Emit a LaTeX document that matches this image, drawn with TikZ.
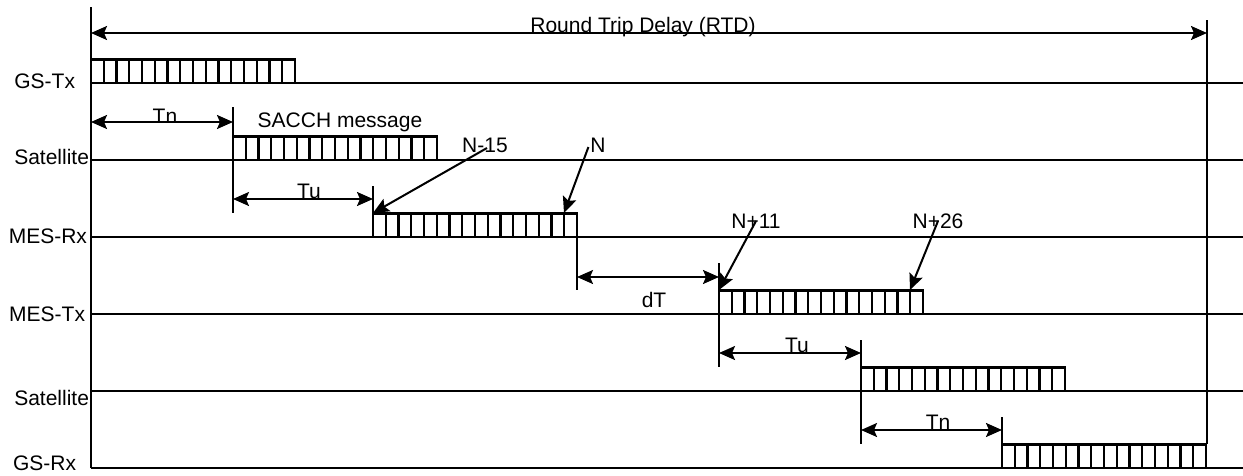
\documentclass[tikz,border=0pt]{standalone}
\usepackage{fontspec}
\setmainfont{Liberation Sans}
\usetikzlibrary{arrows.meta}
\newcommand\drawburst[2]{%
  \foreach \i in {0,...,15}{%
    \draw[cellbox] ({#1+\i*12.75},#2) rectangle ({#1+(\i+1)*12.75},{#2-23.5});
  }%
}
\begin{document}
\begin{tikzpicture}[x=1pt,y=-1pt,line width=2pt,
  lbl/.style={font=\fontsize{21}{24}\selectfont,inner sep=0pt},
  cellbox/.style={line width=2.2pt},
  dimarrow/.style={{Stealth[length=16pt,width=14pt,inset=3pt]}-{Stealth[length=16pt,width=14pt,inset=3pt]}},
  ptrarrow/.style={-{Stealth[length=16pt,width=14pt,inset=3pt]}}]
\useasboundingbox (0,0) rectangle (1243,475);

% timelines
\foreach \yy/\nm in {83/gstx,160/sata,237/mesrx,314/mestx,391/satb,468/gsrx}{
  \coordinate (\nm L) at (91,\yy);
  \coordinate (\nm R) at (1243,\yy);
  \draw (\nm L) -- (\nm R);
}

% left labels
\node[lbl,anchor=base east] (lgstx) at (76,88) {GS-Tx};
\node[lbl,anchor=base east] (lsata) at (90,164) {Satellite};
\node[lbl,anchor=base east] (lmesrx) at (88,243) {MES-Rx};
\node[lbl,anchor=base east] (lmestx) at (86,321) {MES-Tx};
\node[lbl,anchor=base east] (lsatb) at (90,405) {Satellite};
\node[lbl,anchor=base east] (lgsrx) at (77,470) {GS-Rx};

% main vertical lines
\coordinate (vlT) at (91,7);
\coordinate (vrT) at (1207,20);
\coordinate (vrB) at (1207,444);
\draw (vlT) -- (gsrxL);
\draw (vrT) -- (vrB);

% RTD
\coordinate (rtdL) at (91,33);
\coordinate (rtdR) at (1207,33);
\draw[dimarrow] (rtdL) -- (rtdR);
\node[lbl,anchor=base] (lrtd) at (643,32) {Round Trip Delay (RTD)};

% bursts
\drawburst{91}{83}
\drawburst{233}{160}
\drawburst{373}{237}
\drawburst{719}{314}
\drawburst{861}{391}
\drawburst{1002}{468}

% tick lines
\coordinate (ta1) at (233,107);  \coordinate (ta2) at (233,213);
\coordinate (tb1) at (373,186);  \coordinate (tb2) at (373,213);
\coordinate (tc1) at (577,237);  \coordinate (tc2) at (577,290);
\coordinate (td1) at (719,263);  \coordinate (td2) at (719,367);
\coordinate (te1) at (861,340);  \coordinate (te2) at (861,444);
\coordinate (tf1) at (1002,417); \coordinate (tf2) at (1002,444);
\draw (ta1) -- (ta2);
\draw (tb1) -- (tb2);
\draw (tc1) -- (tc2);
\draw (td1) -- (td2);
\draw (te1) -- (te2);
\draw (tf1) -- (tf2);

% dimension arrows
\coordinate (tnaL) at (91,122);   \coordinate (tnaR) at (233,122);
\coordinate (tuaL) at (233,199);  \coordinate (tuaR) at (373,199);
\coordinate (dtL) at (577,277);   \coordinate (dtR) at (719,277);
\coordinate (tubL) at (719,353);  \coordinate (tubR) at (861,353);
\coordinate (tnbL) at (861,430);  \coordinate (tnbR) at (1002,430);
\draw[dimarrow] (tnaL) -- (tnaR);
\draw[dimarrow] (tuaL) -- (tuaR);
\draw[dimarrow] (dtL) -- (dtR);
\draw[dimarrow] (tubL) -- (tubR);
\draw[dimarrow] (tnbL) -- (tnbR);
\node[lbl,anchor=base] (ltna) at (165,123) {Tn};
\node[lbl,anchor=base] (ltua) at (309,198) {Tu};
\node[lbl,anchor=base] (ldt) at (654,307) {dT};
\node[lbl,anchor=base] (ltub) at (797,352) {Tu};
\node[lbl,anchor=base] (ltnb) at (938,429) {Tn};
\node[lbl,anchor=base] (lsacch) at (340,127) {SACCH message};

% pointer labels
\node[lbl] (ln15) at (485,145) {N-15};
\node[lbl] (ln) at (598,145) {N};
\node[lbl] (ln11) at (756,221) {N+11};
\node[lbl] (ln26) at (938,221) {N+26};
\coordinate (pn15) at (373,213);
\coordinate (pn) at (564,213);
\coordinate (pn11) at (719,290);
\coordinate (pn26) at (910,290);
\draw[ptrarrow] ([shift={(2,3)}]ln15.center) -- (pn15);
\draw[ptrarrow] ([shift={(-1,2)}]ln.west) -- (pn);
\draw[ptrarrow] (ln11.center) -- (pn11);
\draw[ptrarrow] (ln26.center) -- (pn26);
\end{tikzpicture}
\end{document}
